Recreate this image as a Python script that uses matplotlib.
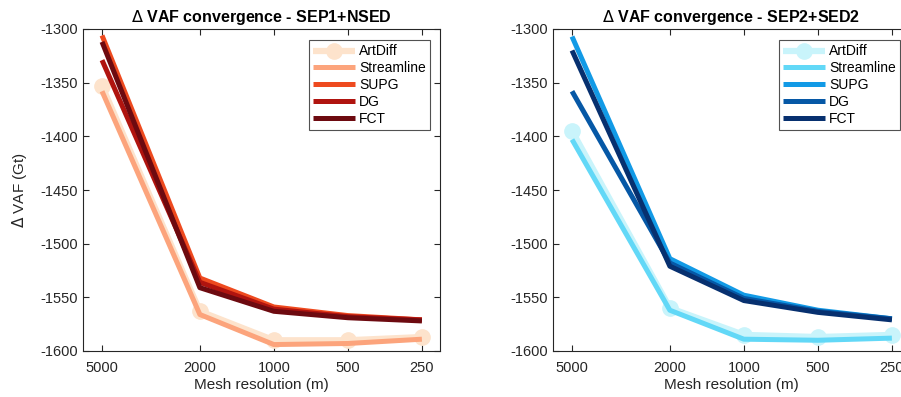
# Delta VAF convergence, two panels

from matplotlib import pyplot as plt
import numpy as np

plt.rcParams['font.family'] = ['Liberation Sans', 'DejaVu Sans']
plt.rcParams['axes.unicode_minus'] = False

# Data
resolution = [5000, 2000, 1000, 500, 250]
methods = ['ArtDiff', 'Streamline', 'SUPG', 'DG', 'FCT']

sep1_artdiff = [-1353, -1563, -1590, -1590, -1587]
sep1_streamline = [-1358, -1566, -1594, -1593, -1589]
sep1_supg = [-1306, -1532, -1559, -1567, -1571]
sep1_dg = [-1329, -1536, -1561, -1568, -1571]
sep1_fct = [-1312, -1541, -1563, -1569, -1572]

sep2_artdiff = [-1395, -1560, -1585, -1587, -1585]
sep2_streamline = [-1403, -1562, -1589, -1590, -1588]
sep2_supg = [-1307, -1514, -1548, -1562, -1570]
sep2_dg = [-1358, -1518, -1551, -1563, -1570]
sep2_fct = [-1320, -1521, -1553, -1564, -1571]

reds = ['#fde3cc', '#fca47c', '#ee4a1f', '#b0140f', '#6d0a10']
blues = ['#c9f4fb', '#62d8f7', '#129ae6', '#0658a6', '#07306f']

fig = plt.figure(figsize=(9.01, 3.97), dpi=100)
W, H = 901, 397
ax1 = fig.add_axes([83 / W, 46 / H, 357 / W, 322 / H])
ax2 = fig.add_axes([553 / W, 46 / H, 357 / W, 322 / H])

panels = [
    (ax1, [sep1_artdiff, sep1_streamline, sep1_supg, sep1_dg, sep1_fct], reds,
     '$\\Delta$ VAF convergence - SEP1+NSED'),
    (ax2, [sep2_artdiff, sep2_streamline, sep2_supg, sep2_dg, sep2_fct], blues,
     '$\\Delta$ VAF convergence - SEP2+SED2'),
]

for ax, series, colors, title in panels:
    for name, vals, c in zip(methods, series, colors):
        if name == 'ArtDiff':
            ax.plot(resolution, vals, color=c, lw=4.5, marker='o', ms=11,
                    label=name, solid_capstyle='butt')
        else:
            ax.plot(resolution, vals, color=c, lw=3.6, label=name,
                    solid_capstyle='butt')
    ax.set_xscale('log')
    ax.set_xticks(resolution)
    ax.set_xticklabels([str(r) for r in resolution])
    ax.minorticks_off()
    ax.set_xlim(5975, 211)
    ax.set_ylim(-1600, -1300)
    ax.set_yticks(np.arange(-1600, -1299, 50))
    ax.tick_params(direction='in', top=True, right=True, labelsize=10.5,
                   length=4, color='#262626', labelcolor='#262626')
    ax.tick_params(axis='x', pad=7)
    for s in ax.spines.values():
        s.set_color('#262626')
        s.set_linewidth(0.8)
    ax.set_title(title, fontsize=11.5, fontweight='bold', pad=5)
    ax.set_xlabel('Mesh resolution (m)', fontsize=11, color='#262626', labelpad=2)
    leg = ax.legend(loc='upper right', fontsize=10, frameon=True, fancybox=False,
                    edgecolor='#262626', handlelength=3.0, handletextpad=0.3,
                    labelspacing=0.2, borderpad=0.3, borderaxespad=0.0,
                    bbox_to_anchor=(0.972, 0.965))
    leg.get_frame().set_linewidth(0.8)

ax1.set_ylabel('$\\Delta$ VAF (Gt)', fontsize=11, color='#262626', labelpad=8)

plt.savefig('out.png', dpi=100)
